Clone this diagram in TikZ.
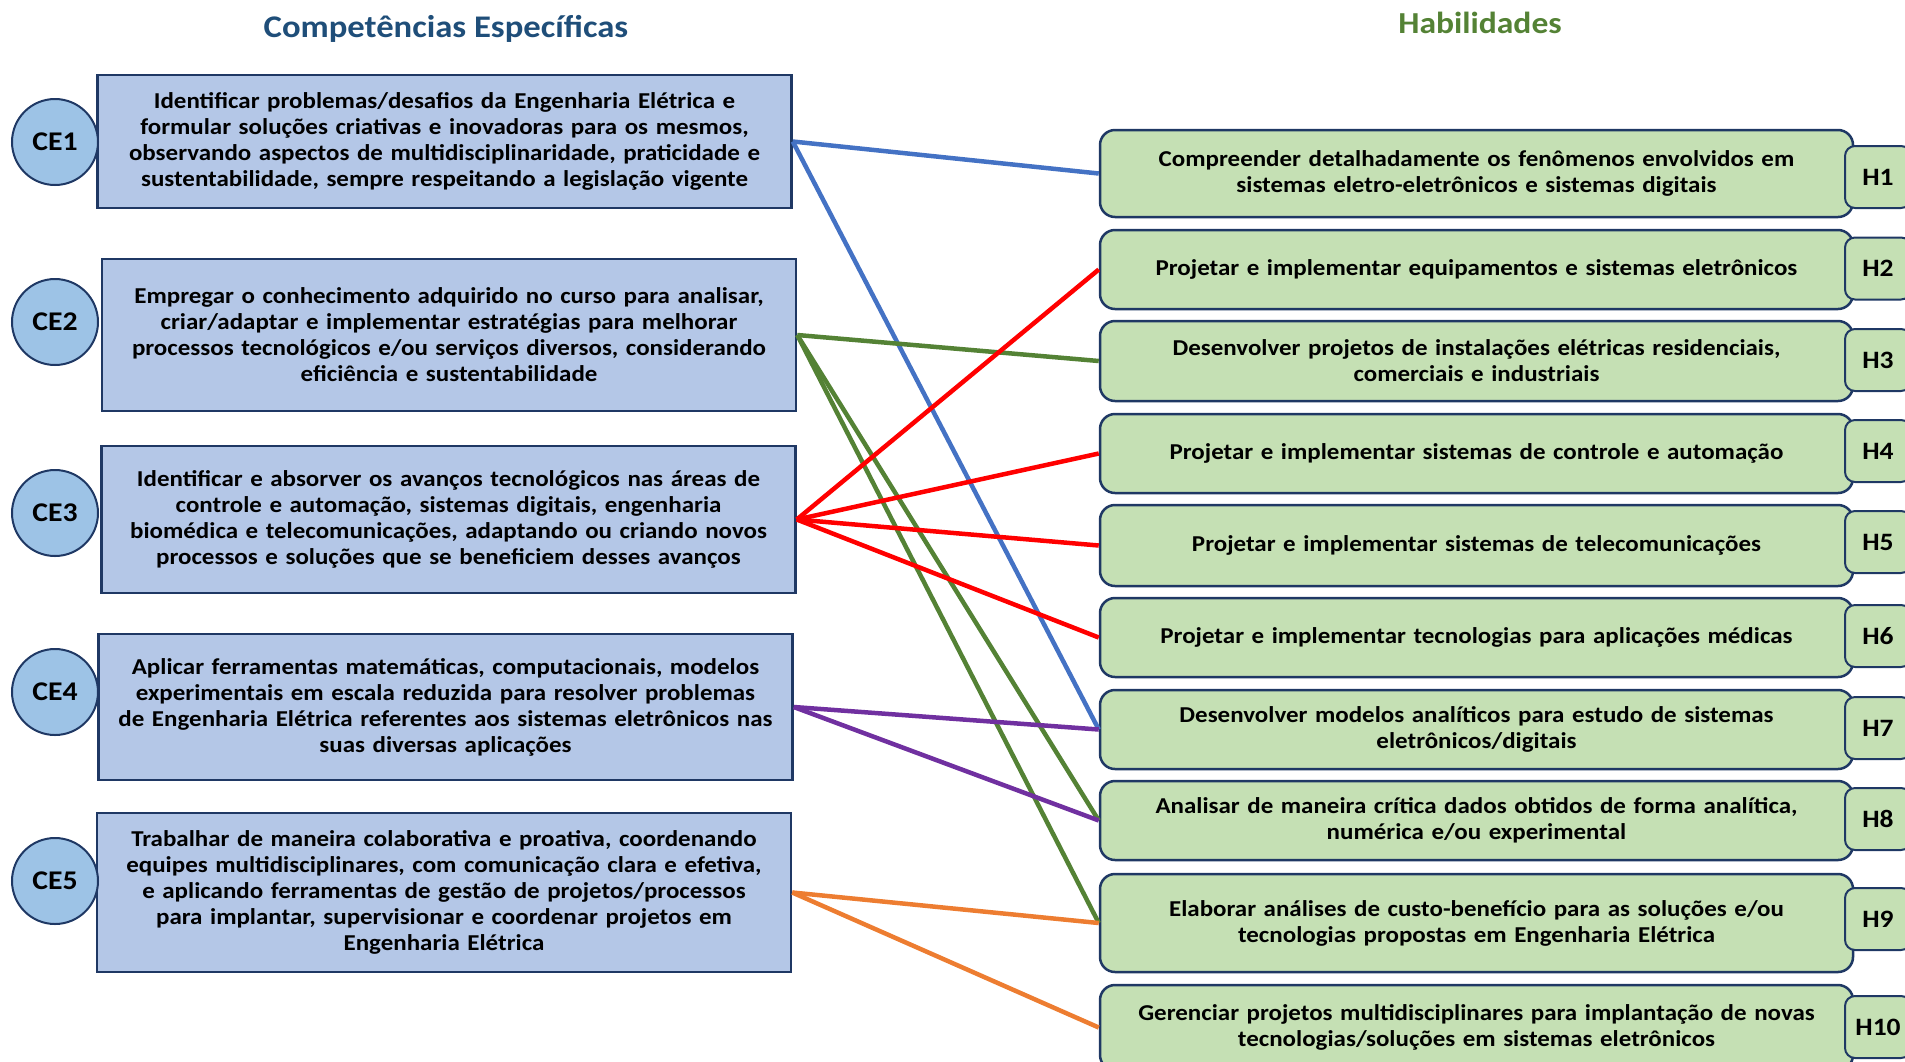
\documentclass[tikz,border=0pt]{standalone}
\usepackage{fontspec}
\setmainfont{Carlito}[FakeStretch=1.1]
\usepackage{xcolor}
\usepackage{tikz}

\definecolor{navy}{HTML}{1F3864}
\definecolor{boxblue}{HTML}{B4C7E7}
\definecolor{circblue}{HTML}{9DC3E6}
\definecolor{boxgreen}{HTML}{C5E0B4}
\definecolor{titleblue}{HTML}{1F4E79}
\definecolor{titlegreen}{HTML}{548235}
\definecolor{lnblue}{HTML}{4472C4}
\definecolor{lngreen}{HTML}{548235}
\definecolor{lnred}{HTML}{FF0000}
\definecolor{lnpurple}{HTML}{7030A0}
\definecolor{lnorange}{HTML}{ED7D31}

\begin{document}
\begin{tikzpicture}[x=1pt,y=-1pt,
    cebox/.style={draw=navy, line width=2.5pt, fill=boxblue, inner sep=0pt,
        minimum width=694pt, text width=686pt, align=center,
        font=\fontsize{22.7}{26}\selectfont\bfseries},
    cecirc/.style={circle, draw=navy, line width=2pt, fill=circblue,
        minimum size=86pt, inner sep=0pt, font=\fontsize{27}{30}\selectfont\bfseries},
    hbox/.style={draw=navy, line width=2.5pt, fill=boxgreen, rounded corners=15pt,
        minimum width=753pt, text width=745pt, inner sep=0pt, align=center,
        font=\fontsize{22.7}{26}\selectfont\bfseries},
    htag/.style={draw=navy, line width=2pt, fill=boxgreen, rounded corners=10pt,
        minimum width=66pt, minimum height=62pt, inner sep=0pt,
        font=\fontsize{25}{28}\selectfont\bfseries},
    link/.style={line width=4.5pt}]
    \useasboundingbox (0,0) rectangle (1905,1061);

    % Titles
    \node[text=titleblue, font=\fontsize{31.5}{34}\selectfont\bfseries] (tce) at (446,29) {Competências Específicas};
    \node[text=titlegreen, font=\fontsize{30.5}{33}\selectfont\bfseries] (th) at (1480,23) {Habilidades};

    % Competencias
    \node[cebox, minimum height=133pt] (ce1) at (444.5,141.5)
        {Identificar problemas/desafios da Engenharia Elétrica e\\
         formular soluções criativas e inovadoras para os mesmos,\\
         observando aspectos de multidisciplinaridade, praticidade e\\
         sustentabilidade, sempre respeitando a legislação vigente};
    \node[cebox, minimum height=152pt] (ce2) at (449,335)
        {Empregar o conhecimento adquirido no curso para analisar,\\
         criar/adaptar e implementar estratégias para melhorar\\
         processos tecnológicos e/ou serviços diversos, considerando\\
         eficiência e sustentabilidade};
    \node[cebox, minimum height=147pt] (ce3) at (448.5,519.5)
        {Identificar e absorver os avanços tecnológicos nas áreas de\\
         controle e automação, sistemas digitais, engenharia\\
         biomédica e telecomunicações, adaptando ou criando novos\\
         processos e soluções que se beneficiem desses avanços};
    \node[cebox, minimum height=146pt] (ce4) at (445.5,707)
        {Aplicar ferramentas matemáticas, computacionais, modelos\\
         experimentais em escala reduzida para resolver problemas\\
         de Engenharia Elétrica referentes aos sistemas eletrônicos nas\\
         suas diversas aplicações};
    \node[cebox, minimum height=159pt] (ce5) at (444,892.5)
        {Trabalhar de maneira colaborativa e proativa, coordenando\\
         equipes multidisciplinares, com comunicação clara e efetiva,\\
         e aplicando ferramentas de gestão de projetos/processos\\
         para implantar, supervisionar e coordenar projetos em\\
         Engenharia Elétrica};

    % CE labels
    \foreach \i/\yc in {1/142,2/322,3/513,4/692,5/881}
        \node[cecirc] (c\i) at (55,\yc) {CE\i};

    % Habilidades
    \foreach \i/\yc/\hh/\tg/\txt in {
        1/173.5/87/177/{Compreender detalhadamente os fenômenos envolvidos em\\ sistemas eletro-eletrônicos e sistemas digitais},
        2/269.5/79/268.5/{Projetar e implementar equipamentos e sistemas eletrônicos},
        3/361/80/360/{Desenvolver projetos de instalações elétricas residenciais,\\ comerciais e industriais},
        4/453.5/79/451/{Projetar e implementar sistemas de controle e automação},
        5/545.5/81/542/{Projetar e implementar sistemas de telecomunicações},
        6/637.5/79/636/{Projetar e implementar tecnologias para aplicações médicas},
        7/729.5/79/728/{Desenvolver modelos analíticos para estudo de sistemas\\ eletrônicos/digitais},
        8/820.5/79/819/{Analisar de maneira crítica dados obtidos de forma analítica,\\ numérica e/ou experimental},
        9/923/98/919/{Elaborar análises de custo-benefício para as soluções e/ou\\ tecnologias propostas em Engenharia Elétrica},
        10/1027.5/85/1027/{Gerenciar projetos multidisciplinares para implantação de novas\\ tecnologias/soluções em sistemas eletrônicos}} {
        \node[hbox, minimum height=\hh pt] (h\i) at (1476.5,\yc) {\txt};
        \node[htag] (t\i) at (1878,\tg) {H\i};
    }

    % Links
    \draw[link, lnblue] (ce1.east) -- (h1.west);
    \draw[link, lnblue] (ce1.east) -- (h7.west);
    \draw[link, lngreen] (ce2.east) -- (h3.west);
    \draw[link, lngreen] (ce2.east) -- (h8.west);
    \draw[link, lngreen] (ce2.east) -- (h9.west);
    \foreach \j in {2,4,5,6}
        \draw[link, lnred] (ce3.east) -- (h\j.west);
    \draw[link, lnpurple] (ce4.east) -- (h7.west);
    \draw[link, lnpurple] (ce4.east) -- (h8.west);
    \draw[link, lnorange] (ce5.east) -- (h9.west);
    \draw[link, lnorange] (ce5.east) -- (h10.west);
\end{tikzpicture}
\end{document}
